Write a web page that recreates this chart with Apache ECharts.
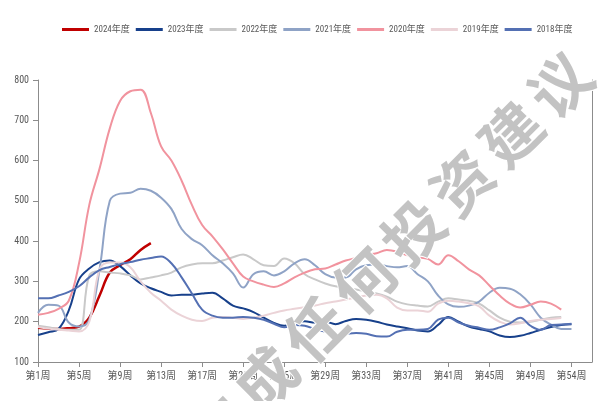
<!DOCTYPE html>
<html><head><meta charset="utf-8">
<script src="https://cdn.jsdelivr.net/npm/echarts@6/dist/echarts.min.js"></script>
<style>html,body{margin:0;padding:0;background:#fff}#c{width:603px;height:401px}</style>
</head><body><div id="c"></div>
<script>
// x-axis categories (index 52 carries the "第54周" label as in the source)
var weekLabels = [];
for (var i = 1; i <= 52; i++) weekLabels.push('第' + i + '周');
weekLabels.push('第54周', '', '');

var seriesNames = ['2024年度','2023年度','2022年度','2021年度','2020年度','2019年度','2018年度'];
var y2024 = [185,183,182,184,188,210,265,322,340,355,378,395];
var y2023 = [167,174,182,228,305,332,348,352,338,315,295,283,274,265,267,267,270,272,258,240,233,224,210,197,190,197,201,198,200,194,202,207,205,200,193,188,184,178,176,192,212,200,188,182,176,166,162,165,172,180,187,192,194];
var y2022 = [190,186,182,180,180,315,325,322,320,315,305,310,315,322,335,342,345,345,352,360,367,355,340,338,357,345,318,305,295,288,285,280,275,270,262,250,243,240,238,250,258,255,252,245,228,210,200,198,200,205,210,212];
var y2021 = [222,242,240,198,188,205,330,500,518,520,530,525,508,480,430,405,390,365,345,320,285,318,325,315,325,345,355,340,318,310,310,330,340,342,338,335,338,318,300,265,243,237,240,250,272,284,282,268,243,210,193,182,182];
var y2020 = [217,222,232,252,345,490,580,680,748,772,776,718,635,600,550,490,440,412,380,345,312,300,292,286,295,310,322,330,332,342,352,358,366,370,378,374,365,360,356,342,365,350,330,315,290,265,245,235,242,250,245,230];
var y2019 = [187,183,180,178,176,200,330,347,347,335,300,272,252,230,215,205,202,210,212,210,207,210,215,222,228,232,236,240,246,250,255,260,265,267,258,235,228,228,225,245,252,250,246,238,215,200,193,196,202,205,207,209];
var y2018 = [258,258,265,274,288,310,328,336,343,348,354,358,362,345,310,270,230,215,210,210,212,210,205,195,186,192,190,182,175,168,170,172,170,164,163,175,180,180,182,205,210,198,190,185,180,186,196,210,190,180,192,193,195];
var yTicks = [100,200,300,400,500,600,700,800];
var watermark = '不构成任何投资建议';

var colors = ['#C00000','#17408B','#C9C9C9','#8FA3C6','#F1939E','#EBD3D7','#5470B3'];
var allData = [y2024,y2023,y2022,y2021,y2020,y2019,y2018];
var font = "'Liberation Sans Narrow','Roboto Condensed','Noto Sans CJK SC',sans-serif";

// watermark: one character per step along the diagonal, last char centred near (560,85)
var wmGraphics = watermark.split('').map(function(ch, i){
  var back = watermark.length - 1 - i;
  return {
    type: 'text', x: 560 - back * 49, y: 85 + back * 49, rotation: Math.PI/4, z: 100,
    style: {text: ch, fontSize: 60, fontFamily: "'Noto Sans CJK SC',sans-serif", fontWeight: 'bold',
      fill: '#C3C3C3', stroke: '#ffffff', lineWidth: 2, textAlign: 'center', textVerticalAlign: 'middle'}
  };
});

var chart = echarts.init(document.getElementById('c'), null, {renderer:'canvas'});
var showIdx = function(idx){ return idx % 4 === 0 && idx <= 52; };
chart.setOption({
  animation: false,
  color: colors,
  legend: {
    data: seriesNames, left: 57, top: 20, itemWidth: 27, itemHeight: 3, itemGap: 6,
    icon: 'rect', width: 546,
    textStyle: {color: '#595959', fontSize: 9, fontFamily: font}
  },
  grid: {left: 38, right: 11, top: 80, bottom: 39},
  xAxis: {
    type: 'category', data: weekLabels, boundaryGap: false,
    axisLine: {lineStyle: {color: '#8C8C8C'}},
    axisTick: {interval: showIdx, length: 5, lineStyle: {color: '#8C8C8C'}},
    axisLabel: {interval: showIdx, color: '#595959', fontSize: 10, margin: 9, fontFamily: font}
  },
  yAxis: [{
    type: 'value', min: yTicks[0], max: yTicks[yTicks.length-1], interval: 100,
    splitLine: {show: false},
    axisLine: {show: true, lineStyle: {color: '#8C8C8C'}},
    axisTick: {show: true, length: 5, lineStyle: {color: '#8C8C8C'}},
    axisLabel: {color: '#595959', fontSize: 10, margin: 9, fontFamily: font}
  },{
    type: 'value', min: 100, max: 800, position: 'right',
    splitLine: {show: false}, axisTick: {show: false}, axisLabel: {show: false},
    axisLine: {show: true, lineStyle: {color: '#8C8C8C'}}
  }],
  series: seriesNames.map(function(n, k){
    return {name: n, type: 'line', data: allData[k], smooth: 0.4, symbol: 'none',
      lineStyle: {width: k === 0 ? 2.5 : 2, color: colors[k]}, itemStyle: {color: colors[k]}};
  }),
  graphic: wmGraphics
});
</script></body></html>
